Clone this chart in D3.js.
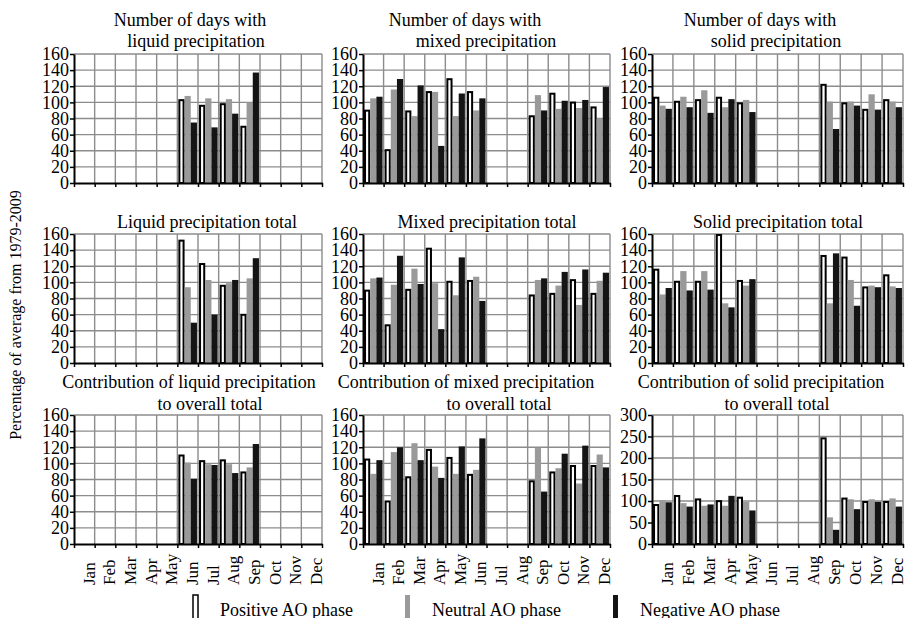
<!DOCTYPE html>
<html>
<head>
<meta charset="utf-8">
<script src="https://cdn.jsdelivr.net/npm/d3@7"></script>
<style>
  body { margin: 0; background: #fff; }
  text { font-family: "Liberation Serif", "Times New Roman", serif; fill: #000; }
</style>
</head>
<body>
<script>
var months = ["Jan", "Feb", "Mar", "Apr", "May", "Jun", "Jul", "Aug", "Sep", "Oct", "Nov", "Dec"];
var phases = ["Positive AO phase", "Neutral AO phase", "Negative AO phase"];

// number of days with liquid precipitation
var liqDaysPos = [null, null, null, null, null, 104, 97, 99, 71, null, null, null];
var liqDaysNeu = [null, null, null, null, null, 108, 105, 104, 100, null, null, null];
var liqDaysNeg = [null, null, null, null, null, 75, 69, 86, 137, null, null, null];

// number of days with mixed precipitation
var mixDaysPos = [91, 42, 90, 114, 130, 114, null, null, 84, 112, 101, 95];
var mixDaysNeu = [105, 116, 83, 113, 83, 90, null, null, 109, 92, 93, 80];
var mixDaysNeg = [107, 129, 121, 46, 111, 105, null, null, 90, 102, 103, 119];

// number of days with solid precipitation
var solDaysPos = [107, 102, 104, 107, 100, null, null, null, 123, 100, 92, 104];
var solDaysNeu = [96, 107, 115, 94, 103, null, null, null, 101, 101, 110, 101];
var solDaysNeg = [92, 94, 87, 104, 88, null, null, null, 67, 96, 91, 94];

// liquid precipitation total
var liqTotPos = [null, null, null, null, null, 153, 124, 97, 61, null, null, null];
var liqTotNeu = [null, null, null, null, null, 94, 103, 99, 105, null, null, null];
var liqTotNeg = [null, null, null, null, null, 50, 60, 103, 130, null, null, null];

// mixed precipitation total
var mixTotPos = [91, 48, 92, 143, 102, 103, null, null, 85, 87, 104, 87];
var mixTotNeu = [105, 97, 117, 99, 84, 107, null, null, 103, 96, 72, 102];
var mixTotNeg = [106, 133, 98, 42, 131, 77, null, null, 105, 113, 116, 112];

// solid precipitation total
var solTotPos = [117, 102, 102, 160, 103, null, null, null, 134, 132, 95, 110];
var solTotNeu = [85, 114, 114, 74, 96, null, null, null, 74, 103, 96, 95];
var solTotNeg = [93, 90, 91, 69, 104, null, null, null, 136, 71, 94, 93];

// contribution to overall total
var liqConPos = [null, null, null, null, null, 111, 104, 105, 90, null, null, null];
var liqConNeu = [null, null, null, null, null, 101, 99, 99, 95, null, null, null];
var liqConNeg = [null, null, null, null, null, 81, 98, 88, 124, null, null, null];

var mixConPos = [106, 54, 84, 118, 108, 87, null, null, 79, 90, 98, 98];
var mixConNeu = [87, 114, 125, 96, 87, 92, null, null, 119, 94, 75, 111];
var mixConNeg = [104, 120, 104, 82, 121, 131, null, null, 65, 112, 122, 95];

var solConPos = [93, 114, 106, 102, 110, null, null, null, 248, 108, 100, 100];
var solConNeu = [102, 95, 89, 89, 98, null, null, null, 62, 104, 104, 106];
var solConNeg = [97, 87, 92, 112, 78, null, null, null, 33, 81, 98, 87];

var fills = ["#fff", "#9a9a9a", "#141414"];

// layout
var cols = [[74, 322], [363, 610], [652, 903]];
var rows = [[54, 183], [234, 363], [415, 544]];

var panels = [
  { r: 0, c: 0, data: [liqDaysPos, liqDaysNeu, liqDaysNeg], max: 160, step: 20,
    title: [["Number of days with", 190, 26], ["liquid precipitation", 196, 47]] },
  { r: 0, c: 1, data: [mixDaysPos, mixDaysNeu, mixDaysNeg], max: 160, step: 20,
    title: [["Number of days with", 465, 26], ["mixed precipitation", 486, 47]] },
  { r: 0, c: 2, data: [solDaysPos, solDaysNeu, solDaysNeg], max: 160, step: 20,
    title: [["Number of days with", 760, 26], ["solid precipitation", 776, 47]] },
  { r: 1, c: 0, data: [liqTotPos, liqTotNeu, liqTotNeg], max: 160, step: 20,
    title: [["Liquid precipitation total", 207, 228]] },
  { r: 1, c: 1, data: [mixTotPos, mixTotNeu, mixTotNeg], max: 160, step: 20,
    title: [["Mixed precipitation total", 487, 228]] },
  { r: 1, c: 2, data: [solTotPos, solTotNeu, solTotNeg], max: 160, step: 20,
    title: [["Solid precipitation total", 778, 228]] },
  { r: 2, c: 0, data: [liqConPos, liqConNeu, liqConNeg], max: 160, step: 20,
    title: [["Contribution of liquid precipitation", 189, 388], ["to overall total", 210, 410]] },
  { r: 2, c: 1, data: [mixConPos, mixConNeu, mixConNeg], max: 160, step: 20,
    title: [["Contribution of mixed precipitation", 466, 388], ["to overall total", 499, 410]] },
  { r: 2, c: 2, data: [solConPos, solConNeu, solConNeg], max: 300, step: 50,
    title: [["Contribution of solid precipitation", 761, 388], ["to overall total", 777, 410]] }
];

var svg = d3.select("body").append("svg")
  .attr("width", 905)
  .attr("height", 618);

panels.forEach(function(p) {
  var x0 = cols[p.c][0], x1 = cols[p.c][1];
  var y0 = rows[p.r][0], y1 = rows[p.r][1];
  var w = x1 - x0, h = y1 - y0;

  var g = svg.append("g").attr("transform", "translate(" + x0 + "," + y0 + ")");

  var x = d3.scaleBand().domain(months).range([0, w]).paddingInner(0.1).paddingOuter(0.05);
  var xs = d3.scaleBand().domain(d3.range(3)).range([0, x.bandwidth()]);
  var xb = d3.scaleLinear().domain([0, 12]).range([0, w]);
  var y = d3.scaleLinear().domain([0, p.max]).range([h, 0]);
  var yt = d3.range(0, p.max + 1, p.step);

  // grid
  g.append("g").selectAll("line.h")
    .data(yt.slice(1))
    .enter().append("line")
    .attr("x1", 0).attr("x2", w)
    .attr("y1", function(d) { return y(d); })
    .attr("y2", function(d) { return y(d); })
    .attr("stroke", "#8c8c8c").attr("stroke-width", 1.4);
  g.append("g").selectAll("line.v")
    .data(d3.range(1, 13))
    .enter().append("line")
    .attr("x1", function(d) { return xb(d); })
    .attr("x2", function(d) { return xb(d); })
    .attr("y1", 0).attr("y2", h)
    .attr("stroke", "#8c8c8c").attr("stroke-width", 1.4);

  // bars
  p.data.forEach(function(arr, s) {
    g.append("g").selectAll("rect")
      .data(arr.map(function(v, i) { return { m: months[i], v: v }; }).filter(function(d) { return d.v != null; }))
      .enter().append("rect")
      .attr("x", function(d) { return x(d.m) + xs(s) + (s == 0 ? 1 : 0); })
      .attr("width", xs.bandwidth() - (s == 0 ? 2 : 0))
      .attr("y", function(d) { return y(d.v) + (s == 0 ? 1 : 0); })
      .attr("height", function(d) { return h - y(d.v) - (s == 0 ? 1 : 0); })
      .attr("fill", fills[s])
      .attr("stroke", s == 0 ? "#000" : "none")
      .attr("stroke-width", 2);
  });

  // axes
  var ya = g.append("g")
    .call(d3.axisLeft(y).tickValues(yt).tickSizeInner(4).tickSizeOuter(0).tickPadding(1));
  ya.selectAll("text").style("font-size", "18px").attr("font-family", "Liberation Serif");
  var xa = g.append("g")
    .attr("transform", "translate(0," + h + ")")
    .call(d3.axisBottom(xb).ticks(12).tickSizeInner(4).tickSizeOuter(0).tickFormat(""));
  [ya, xa].forEach(function(a) {
    a.select(".domain").attr("stroke", "#000").attr("stroke-width", 2);
    a.selectAll(".tick line").attr("stroke", "#000").attr("stroke-width", 1.5);
  });

  if (p.r == 2) {
    g.append("g").selectAll("text")
      .data(months)
      .enter().append("text")
      .attr("transform", function(d) {
        return "translate(" + (x(d) + x.bandwidth() + 1) + "," + 585 + ") rotate(-90)";
      })
      .attr("y", 0)
      .attr("x", 0)
      .attr("transform", function(d) {
        return "translate(" + (x(d) + x.bandwidth() + 1) + "," + (585 - y0) + ") rotate(-90)";
      })
      .style("font-size", "17px")
      .text(function(d) { return d; });
  }

  p.title.forEach(function(t) {
    svg.append("text")
      .attr("x", t[1]).attr("y", t[2])
      .attr("text-anchor", "middle")
      .style("font-size", "18px")
      .text(t[0]);
  });
});

svg.append("text")
  .attr("transform", "translate(21,315) rotate(-90)")
  .attr("text-anchor", "middle")
  .style("font-size", "16px")
  .text("Percentage of average from 1979-2009");

// legend
var legX = [193, 405, 613];
var leg = svg.selectAll(".legend")
  .data(phases)
  .enter().append("g")
  .attr("class", "legend");
leg.append("rect")
  .attr("x", function(d, i) { return legX[i]; })
  .attr("y", 595)
  .attr("width", 5)
  .attr("height", 30)
  .attr("fill", function(d, i) { return fills[i]; })
  .attr("stroke", function(d, i) { return i == 0 ? "#000" : "none"; })
  .attr("stroke-width", 1.5);
leg.append("text")
  .attr("x", function(d, i) { return legX[i] + 27; })
  .attr("y", 616)
  .style("font-size", "18px")
  .text(function(d) { return d; });
</script>
</body>
</html>
